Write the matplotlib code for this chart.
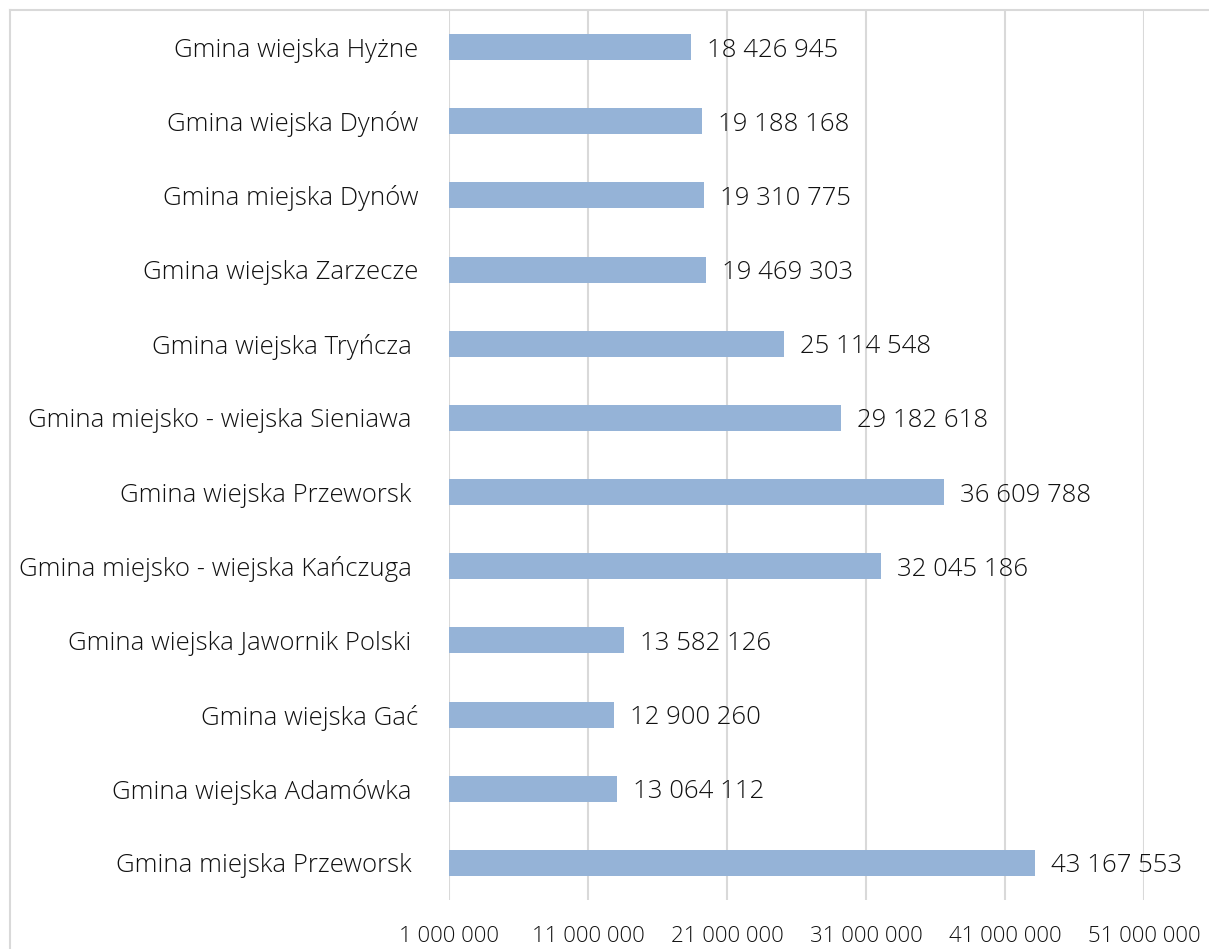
import matplotlib.pyplot as plt
from matplotlib.lines import Line2D

# data, top to bottom as in the chart
gminy = [
    "Gmina wiejska Hyżne",
    "Gmina wiejska Dynów",
    "Gmina miejska Dynów",
    "Gmina wiejska Zarzecze",
    "Gmina wiejska Tryńcza ",
    "Gmina miejsko - wiejska Sieniawa ",
    "Gmina wiejska Przeworsk ",
    "Gmina miejsko - wiejska Kańczuga ",
    "Gmina wiejska Jawornik Polski ",
    "Gmina wiejska Gać",
    "Gmina wiejska Adamówka ",
    "Gmina miejska Przeworsk ",
]
kwoty = [18426945, 19188168, 19310775, 19469303, 25114548, 29182618,
         36609788, 32045186, 13582126, 12900260, 13064112, 43167553]
x_ticks = [1000000, 11000000, 21000000, 31000000, 41000000, 51000000]

def fmt(v):
    return f"{v:,}".replace(",", " ")

plt.rcParams['font.family'] = ['Open Sans', 'DejaVu Sans']
text_color = "#111111"
grid_color = "#D9D9D9"
bar_color = "#95B3D7"
fs = 18.5

fig = plt.figure(figsize=(12.09, 9.49), dpi=100)
ax = fig.add_axes([449 / 1209, 1 - 900 / 949, (1144 - 449) / 1209, 890 / 949])

ypos = list(range(len(gminy)))[::-1]
base = x_ticks[0]
ax.barh(ypos, [k - base for k in kwoty], left=base, height=0.35, color=bar_color)

for y, k in zip(ypos, kwoty):
    ax.text(k + 1150000, y, fmt(k), va="center_baseline", ha="left", fontsize=fs,
            color=text_color, fontweight="light")

ax.set_yticks(ypos)
ax.set_yticklabels(gminy, fontsize=fs, color=text_color, fontweight="light",
                   va="center_baseline")
ax.set_xticks(x_ticks)
ax.set_xticklabels([fmt(t) for t in x_ticks], fontsize=16, color=text_color,
                   fontweight="light")
ax.set_xlim(x_ticks[0], x_ticks[-1])
ax.set_ylim(-0.5, len(gminy) - 0.5)
ax.tick_params(axis="y", length=0, pad=22)
ax.tick_params(axis="x", length=0, pad=19)
ax.grid(axis="x", color=grid_color, linewidth=1.5)
ax.set_axisbelow(True)
for s in ax.spines.values():
    s.set_visible(False)

# chart frame (clipped at right and bottom)
fig.add_artist(Line2D([10 / 1209, 1], [1 - 10 / 949, 1 - 10 / 949],
                      transform=fig.transFigure, color=grid_color, linewidth=1.5))
fig.add_artist(Line2D([10 / 1209, 10 / 1209], [0, 1 - 10 / 949],
                      transform=fig.transFigure, color=grid_color, linewidth=1.5))

fig.savefig("out.png", dpi=100)
